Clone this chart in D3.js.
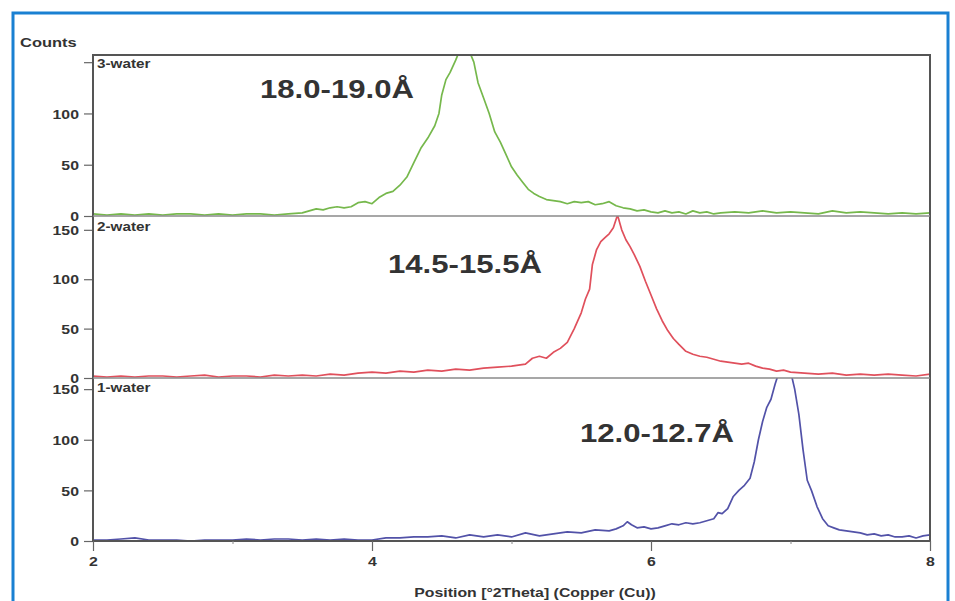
<!DOCTYPE html>
<html lang="en">
<head>
<meta charset="UTF-8">
<title>XRD patterns - hydration states</title>
<script src="https://cdn.jsdelivr.net/npm/d3@7"></script>
<style>
    body { margin: 0; background: #fff; }
    svg { display: block; }
    .lbl { font-family: "Liberation Sans", Arial, sans-serif; font-weight: bold; fill: #333; }
</style>
</head>
<body>
<svg id="chart" width="955" height="601"></svg>
<script>
// ---- data ----
const xTicks = [2, 4, 6, 8];
const yTicks = [0, 50, 100, 150];
const panelNames = ["3-water", "2-water", "1-water"];
const panelNotes = ["18.0-19.0Å", "14.5-15.5Å", "12.0-12.7Å"];
const panelColors = ["#76b84c", "#e0505c", "#5252a8"];
const panelMax = [157, 164, 161];

const pos3 = [2.00,2.10,2.20,2.30,2.40,2.50,2.60,2.70,2.80,2.90,3.00,3.10,3.20,3.30,3.40,3.50,3.55,3.60,3.65,3.70,3.75,3.80,3.85,3.90,3.95,4.00,4.05,4.10,4.15,4.20,4.25,4.30,4.35,4.40,4.45,4.48,4.50,4.53,4.56,4.60,4.63,4.67,4.70,4.73,4.76,4.80,4.84,4.88,4.92,4.96,5.00,5.04,5.08,5.12,5.16,5.20,5.25,5.30,5.35,5.40,5.45,5.50,5.55,5.60,5.65,5.70,5.75,5.80,5.85,5.90,5.95,6.00,6.05,6.10,6.15,6.20,6.25,6.30,6.35,6.40,6.45,6.50,6.60,6.70,6.80,6.90,7.00,7.10,7.20,7.30,7.40,7.50,7.60,7.70,7.80,7.90,8.00];
const counts3 = [2,1,2,1,2,1,2,2,1,2,1,2,2,1,2,3,5,7,6,8,9,8,9,13,14,12,18,22,24,30,38,52,66,76,88,100,118,133,140,152,162,165,160,150,130,115,100,82,72,60,48,40,33,26,22,19,16,15,14,12,14,13,14,11,12,14,10,8,7,5,6,4,3,5,3,4,2,5,3,4,2,3,4,3,5,3,4,3,2,5,3,4,3,2,3,2,3];

const pos2 = [2.00,2.10,2.20,2.30,2.40,2.50,2.60,2.70,2.80,2.90,3.00,3.10,3.20,3.30,3.40,3.50,3.60,3.70,3.80,3.90,4.00,4.10,4.20,4.30,4.40,4.50,4.60,4.70,4.80,4.90,5.00,5.05,5.10,5.15,5.20,5.25,5.30,5.35,5.40,5.45,5.50,5.53,5.56,5.58,5.61,5.64,5.67,5.70,5.73,5.76,5.79,5.82,5.85,5.88,5.92,5.96,6.00,6.04,6.08,6.12,6.16,6.20,6.25,6.30,6.35,6.40,6.45,6.50,6.55,6.60,6.65,6.70,6.75,6.80,6.85,6.90,6.95,7.00,7.10,7.20,7.30,7.40,7.50,7.60,7.70,7.80,7.90,8.00];
const counts2 = [2,1,2,1,2,2,1,2,3,1,2,2,1,3,2,3,2,4,3,5,6,5,7,6,8,7,9,8,10,11,12,13,14,20,22,20,26,30,36,50,66,80,90,115,130,138,142,146,152,165,150,140,133,125,113,98,84,70,58,48,40,34,27,24,22,21,19,17,16,15,14,15,12,10,9,7,8,6,5,4,5,3,4,3,4,3,2,4];

const pos1 = [2.00,2.10,2.20,2.30,2.40,2.50,2.60,2.70,2.80,2.90,3.00,3.10,3.20,3.30,3.40,3.50,3.60,3.70,3.80,3.90,4.00,4.10,4.20,4.30,4.40,4.50,4.60,4.70,4.80,4.90,5.00,5.10,5.20,5.30,5.40,5.50,5.60,5.70,5.75,5.80,5.83,5.86,5.90,5.95,6.00,6.05,6.10,6.15,6.20,6.25,6.30,6.35,6.40,6.45,6.48,6.51,6.55,6.59,6.63,6.67,6.71,6.74,6.77,6.80,6.83,6.86,6.89,6.92,6.96,7.00,7.03,7.06,7.09,7.12,7.15,7.19,7.23,7.27,7.31,7.35,7.40,7.45,7.50,7.55,7.60,7.65,7.70,7.75,7.80,7.85,7.90,7.95,8.00];
const counts1 = [1,1,2,3,1,1,1,0,1,1,1,2,1,2,2,1,2,1,2,1,1,3,3,4,4,5,3,6,4,6,4,8,5,7,9,8,11,10,12,15,19,16,13,14,12,13,15,17,16,18,17,18,20,22,28,27,32,44,50,55,62,78,100,118,132,140,155,168,170,168,150,125,90,60,50,34,22,15,13,11,10,9,8,6,7,5,6,4,4,5,3,5,6];

const series = [
    { pos: pos3, counts: counts3 },
    { pos: pos2, counts: counts2 },
    { pos: pos1, counts: counts1 }
];

// ---- layout ----
const svg = d3.select("#chart");
const left = 93, right = 930;
const panelTop = [55, 216, 378];
const panelBottom = [216, 378, 541];
const sx = 1.22; // glyphs in the picture are drawn wide

function label(x, y, txt, size, anchor) {
    return svg.append("text")
        .attr("class", "lbl")
        .attr("transform", "translate(" + x + "," + y + ") scale(" + sx + ",1)")
        .attr("text-anchor", anchor || "start")
        .style("font-size", size + "px")
        .text(txt);
}

// blue frame
svg.append("rect")
    .attr("x", 13).attr("y", 13)
    .attr("width", 935).attr("height", 640)
    .attr("fill", "#fff")
    .attr("stroke", "#1a80d2")
    .attr("stroke-width", 3);

const x = d3.scaleLinear().domain([2, 8]).range([left, right]);

label(20, 47, "Counts", 13.5);

series.forEach((s, i) => {
    const y = d3.scaleLinear().domain([0, panelMax[i]]).range([panelBottom[i], panelTop[i]]);
    const g = svg.append("g");

    g.append("clipPath").attr("id", "clip" + i)
        .append("rect")
        .attr("x", left).attr("y", panelTop[i])
        .attr("width", right - left).attr("height", panelBottom[i] - panelTop[i]);

    const pts = s.pos.map((p, k) => [p, s.counts[k]]);
    const line = d3.line().x(d => x(d[0])).y(d => y(d[1]));

    g.append("path")
        .datum(pts)
        .attr("clip-path", "url(#clip" + i + ")")
        .attr("fill", "none")
        .attr("stroke", panelColors[i])
        .attr("stroke-width", 1.7)
        .attr("stroke-linejoin", "round")
        .attr("d", line);

    // y axis ticks (top panel shows the 150 tick without its label)
    const yAxis = d3.axisLeft(y).tickValues(yTicks).tickSize(9).tickPadding(5)
        .tickFormat(d => (i === 0 && d === 150) ? "" : d);
    const ag = svg.append("g").attr("transform", "translate(" + left + ",0)").call(yAxis);
    ag.select(".domain").remove();
    ag.selectAll(".tick line").attr("stroke", "#666").attr("stroke-width", 1.2);
    ag.selectAll(".tick text").attr("class", "lbl")
        .style("font-size", "13px")
        .attr("transform", "scale(" + sx + ",1)")
        .attr("dy", "0.36em")
        .attr("x", -14 / sx);

    label(97, [68, 231, 392][i], panelNames[i], 12.5);
});

// annotations
label(260, 98, panelNotes[0], 25.5);
label(388, 273, panelNotes[1], 25.5);
label(580, 442, panelNotes[2], 25.5);

// panel frames
svg.append("rect")
    .attr("x", left).attr("y", panelTop[0])
    .attr("width", right - left).attr("height", panelBottom[2] - panelTop[0])
    .attr("fill", "none").attr("stroke", "#555").attr("stroke-width", 2);
[216, 378].forEach(v => {
    svg.append("line")
        .attr("x1", left).attr("x2", right)
        .attr("y1", v).attr("y2", v)
        .attr("stroke", "#8a8a8a").attr("stroke-width", 1.5);
});

// x axis
const xAxis = d3.axisBottom(x).tickValues(xTicks).tickSize(10).tickPadding(6).tickFormat(d3.format("d"));
const xg = svg.append("g").attr("transform", "translate(0," + panelBottom[2] + ")").call(xAxis);
xg.select(".domain").remove();
xg.selectAll(".tick line").attr("stroke", "#666").attr("stroke-width", 1.2);
xg.selectAll(".tick text").attr("class", "lbl").style("font-size", "13px")
    .attr("transform", "scale(" + sx + ",1)");
svg.append("g").attr("transform", "translate(0," + panelBottom[2] + ")")
    .call(d3.axisBottom(x).tickValues([3, 5, 7]).tickSize(3).tickFormat(""))
    .call(a => a.select(".domain").remove())
    .selectAll("line").attr("stroke", "#888");

label(535, 597, "Position [°2Theta] (Copper (Cu))", 13, "middle");
</script>
</body>
</html>
